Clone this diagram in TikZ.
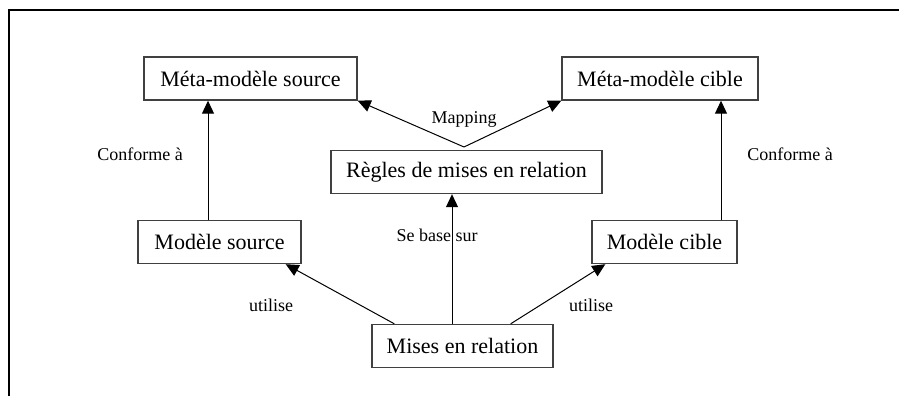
\documentclass[tikz,border=0pt]{standalone}
\usepackage{fontspec}
\setmainfont{Liberation Serif}
\usetikzlibrary{arrows.meta}

\begin{document}
\begin{tikzpicture}[x=1pt,y=-1pt]
			\tikzstyle{every node}+=[inner sep=0pt]
			\tikzstyle{box}=[draw=black!75,line width=1.4pt,minimum height=43pt,font=\fontsize{22}{26}\selectfont]
			\tikzstyle{lbl}=[font=\fontsize{18}{21}\selectfont]
			\tikzstyle{fl}=[line width=1pt,-{Triangle[width=12pt,length=13pt]}]
			\useasboundingbox (0,0) rectangle (899,396);
			\draw [line width=2pt] (9,396) -- (9,10) -- (899,10);
			\node [box,minimum width=213pt] (mmsrc) at (250.5,78.5) {Méta-modèle source};
			\node [box,minimum width=196pt] (mmcib) at (660,78.5) {Méta-modèle cible};
			\node [box,minimum width=271pt] (regles) at (466.5,172) {Règles de mises en relation};
			\node [box,minimum width=163pt] (msrc) at (219.5,242) {Modèle source};
			\node [box,minimum width=145pt] (mcib) at (664.5,242) {Modèle cible};
			\node [box,minimum width=181pt] (mises) at (462.5,346) {Mises en relation};
			\coordinate (mapjoin) at (464,147);
			\draw [fl] (mapjoin) -- (mmsrc.south east);
			\draw [fl] (mapjoin) -- (mmcib.south west);
			\node [lbl] (lmap) at (464,119) {Mapping};
			\draw [fl] ([xshift=-11.5pt]msrc.north) -- ([xshift=-11.5pt]msrc.north |- mmsrc.south);
			\node [lbl] (lconfl) at (140,154) {Conforme à};
			\draw [fl] ([xshift=56.5pt]mcib.north) -- ([xshift=56.5pt]mcib.north |- mmcib.south);
			\node [lbl] (lconfr) at (790,154) {Conforme à};
			\draw [fl] ([xshift=-10.5pt]mises.north) -- ([xshift=-10.5pt]mises.north |- regles.south);
			\node [lbl] (lbase) at (437,235) {Se base sur};
			\draw [fl] ([xshift=23pt]mises.north west) -- ([xshift=-16pt]msrc.south east);
			\node [lbl] (lutil) at (271,305) {utilise};
			\draw [fl] ([xshift=-43pt]mises.north east) -- ([xshift=14pt]mcib.south west);
			\node [lbl] (lutir) at (591,305) {utilise};
\end{tikzpicture}
\end{document}
